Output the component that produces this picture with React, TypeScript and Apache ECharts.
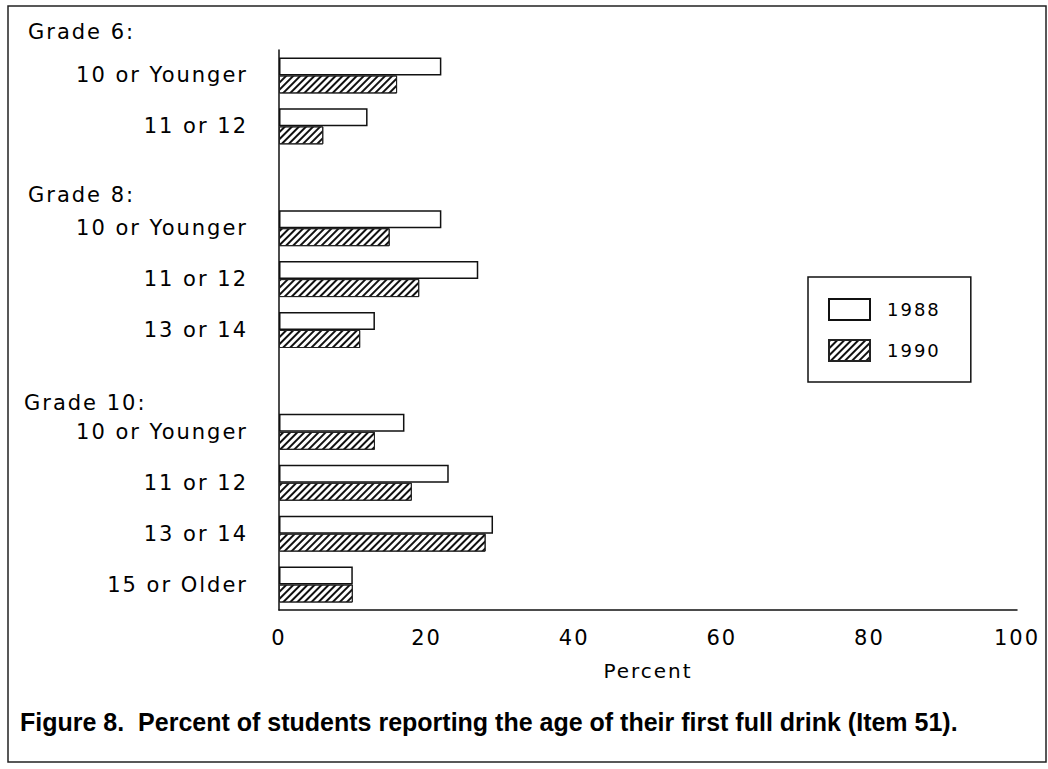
import React, { useEffect, useRef } from "react";
import * as echarts from "echarts";

const rowKeys = ["g6a", "g6b", "gap1", "g8a", "g8b", "g8c", "gap2", "g10a", "g10b", "g10c", "g10d"];
const rowLabels = ["10 or Younger", "11 or 12", "", "10 or Younger", "11 or 12", "13 or 14", "", "10 or Younger", "11 or 12", "13 or 14", "15 or Older"];
const values1988 = [22, 12, null, 22, 27, 13, null, 17, 23, 29, 10];
const values1990 = [16, 6, null, 15, 19, 11, null, 13, 18, 28, 10];
const seriesNames = ["1988", "1990"];
const groupHeaders = ["Grade 6:", "Grade 8:", "Grade 10:"];
const xTicks = [0, 20, 40, 60, 80, 100];
const xAxisName = "Percent";
const caption = "Figure 8.  Percent of students reporting the age of their first full drink (Item 51).";

const LABEL_FONT = "DejaVu Sans";
const CAPTION_FONT = "'Liberation Sans Narrow', 'Liberation Sans'";
const INK = "#000";

export default function App() {
  const ref = useRef<HTMLDivElement>(null);

  useEffect(() => {
    if (!ref.current) return;
    const chart = echarts.init(ref.current, undefined, { renderer: "svg" });
    const labelMap: Record<string, string> = {};
    rowKeys.forEach((k, i) => (labelMap[k] = rowLabels[i]));

    const hatch = {
      symbol: "rect",
      symbolSize: 1,
      rotation: -Math.PI / 4,
      dashArrayX: [1, 0],
      dashArrayY: [1.5, 2.6],
      color: "#111",
      backgroundColor: "rgba(0,0,0,0)",
    };

    const option: any = {
      animation: false,
      backgroundColor: "#fff",
      textStyle: { fontFamily: LABEL_FONT, color: INK },
      grid: { left: 279, right: 31, top: 50, bottom: 159, containLabel: false },
      legend: {
        orient: "vertical",
        left: 808,
        top: 277,
        padding: [21, 38, 20, 20],
        itemWidth: 41,
        itemHeight: 21,
        itemGap: 18,
        borderColor: "#111",
        borderWidth: 1.5,
        icon: "rect",
        data: seriesNames,
        textStyle: { fontSize: 18, color: INK, fontFamily: LABEL_FONT, padding: [0, 0, 0, 12] },
      },
      xAxis: {
        type: "value",
        min: xTicks[0],
        max: xTicks[xTicks.length - 1],
        interval: xTicks[1] - xTicks[0],
        name: xAxisName,
        nameLocation: "middle",
        nameGap: 51,
        nameTextStyle: { fontSize: 20, color: INK, fontFamily: LABEL_FONT },
        axisLine: { show: true, lineStyle: { color: "#111", width: 1.5 } },
        axisTick: { show: false },
        splitLine: { show: false },
        axisLabel: { fontSize: 21, color: INK, margin: 17, fontFamily: LABEL_FONT },
      },
      yAxis: {
        type: "category",
        inverse: true,
        data: rowKeys,
        axisLine: { show: true, lineStyle: { color: "#111", width: 1.5 } },
        axisTick: { show: false },
        splitLine: { show: false },
        axisLabel: {
          fontSize: 21,
          color: INK,
          margin: 31,
          fontFamily: LABEL_FONT,
          interval: 0,
          formatter: (v: string) => labelMap[v] || "",
        },
      },
      series: [
        {
          name: seriesNames[0],
          type: "bar",
          data: values1988,
          barWidth: 18,
          barGap: "0%",
          itemStyle: { color: "#fff", borderColor: "#111", borderWidth: 1.5 },
        },
        {
          name: seriesNames[1],
          type: "bar",
          data: values1990,
          barWidth: 18,
          barGap: "0%",
          itemStyle: { color: "#fff", borderColor: "#222", borderWidth: 1, decal: hatch },
        },
      ],
      graphic: [
        {
          type: "rect",
          shape: { x: 8, y: 6, width: 1038, height: 756 },
          style: { fill: "none", stroke: "#222", lineWidth: 1.5 },
          silent: true,
        },
        {
          type: "text",
          left: 28,
          top: 21,
          style: { text: groupHeaders[0], fontSize: 21, fontFamily: LABEL_FONT, fill: INK },
        },
        {
          type: "text",
          left: 28,
          top: 184,
          style: { text: groupHeaders[1], fontSize: 21, fontFamily: LABEL_FONT, fill: INK },
        },
        {
          type: "text",
          left: 24,
          top: 392,
          style: { text: groupHeaders[2], fontSize: 21, fontFamily: LABEL_FONT, fill: INK },
        },
        {
          type: "text",
          left: 20,
          top: 709,
          style: {
            text: caption,
            fontSize: 25,
            fontWeight: "bold",
            fontFamily: CAPTION_FONT,
            fill: INK,
          },
        },
      ],
    };
    chart.setOption(option);
    return () => chart.dispose();
  }, []);

  return (
    <>
      <style>{`
        .chart-host svg text { letter-spacing: 2px; }
        .chart-host svg text[style*="Liberation"] { letter-spacing: 0px; }
      `}</style>
      <div
        className="chart-host"
        ref={ref}
        style={{ position: "fixed", left: 0, top: 0, width: 1048, height: 769, background: "#fff" }}
      />
    </>
  );
}
